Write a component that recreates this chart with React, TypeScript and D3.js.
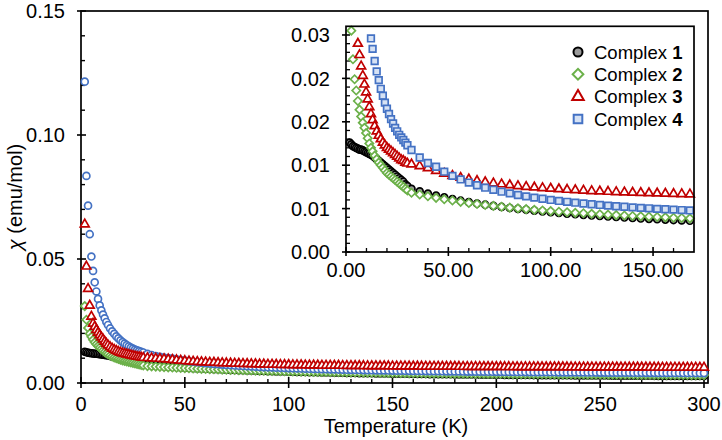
import React from "react";
import * as d3 from "d3";

// Temperatures (K)
const tempLowK = [1.8, 2.6, 3.4, 4.2, 5.0, 5.8, 6.6, 7.4, 8.2, 9.0, 9.8, 10.6, 11.4, 12.2, 13.0, 14, 15, 16, 17, 18, 19, 20, 21, 22, 23, 24, 25, 26, 27, 28, 29, 30];
const tempHighK = [
  32, 34, 36, 38, 40, 42, 44, 46, 48, 50,
  52, 54, 56, 58, 60, 62, 64, 66, 68, 70,
  72, 74, 76, 78, 80, 82, 84, 86, 88, 90,
  92, 94, 96, 98, 100, 102, 104, 106, 108, 110,
  112, 114, 116, 118, 120, 122, 124, 126, 128, 130,
  132, 134, 136, 138, 140, 142, 144, 146, 148, 150,
  152, 154, 156, 158, 160, 162, 164, 166, 168, 170,
  172, 174, 176, 178, 180, 182, 184, 186, 188, 190,
  192, 194, 196, 198, 200, 202, 204, 206, 208, 210,
  212, 214, 216, 218, 220, 222, 224, 226, 228, 230,
  232, 234, 236, 238, 240, 242, 244, 246, 248, 250,
  252, 254, 256, 258, 260, 262, 264, 266, 268, 270,
  272, 274, 276, 278, 280, 282, 284, 286, 288, 290,
  292, 294, 296, 298, 300,
];

// Complex 1
const chi1Low = [0.0126, 0.0124, 0.0122, 0.0121, 0.0120, 0.0119, 0.0118, 0.0118, 0.0117, 0.0116, 0.0115, 0.0114, 0.0113, 0.0112, 0.0111, 0.0109, 0.0107, 0.0105, 0.0103, 0.0101, 0.0099, 0.0097, 0.0095, 0.0093, 0.0091, 0.0089, 0.0087, 0.0085, 0.0083, 0.0081, 0.0078, 0.0076];
const chi1High = [
  0.00727, 0.00713, 0.00699, 0.00686, 0.00673, 0.00661, 0.00650, 0.00639, 0.00629, 0.00619,
  0.00609, 0.00600, 0.00591, 0.00583, 0.00575, 0.00567, 0.00559, 0.00552, 0.00545, 0.00538,
  0.00531, 0.00525, 0.00519, 0.00513, 0.00507, 0.00502, 0.00496, 0.00491, 0.00486, 0.00481,
  0.00476, 0.00471, 0.00467, 0.00463, 0.00458, 0.00454, 0.00450, 0.00446, 0.00442, 0.00438,
  0.00435, 0.00431, 0.00428, 0.00424, 0.00421, 0.00418, 0.00415, 0.00412, 0.00409, 0.00406,
  0.00403, 0.00400, 0.00397, 0.00395, 0.00392, 0.00389, 0.00387, 0.00384, 0.00382, 0.00380,
  0.00377, 0.00375, 0.00373, 0.00371, 0.00368, 0.00366, 0.00364, 0.00362, 0.00360, 0.00358,
  0.00356, 0.00355, 0.00353, 0.00351, 0.00349, 0.00347, 0.00346, 0.00344, 0.00342, 0.00341,
  0.00339, 0.00338, 0.00336, 0.00334, 0.00333, 0.00331, 0.00330, 0.00329, 0.00327, 0.00326,
  0.00324, 0.00323, 0.00322, 0.00320, 0.00319, 0.00318, 0.00317, 0.00315, 0.00314, 0.00313,
  0.00312, 0.00311, 0.00310, 0.00308, 0.00307, 0.00306, 0.00305, 0.00304, 0.00303, 0.00302,
  0.00301, 0.00300, 0.00299, 0.00298, 0.00297, 0.00296, 0.00295, 0.00294, 0.00293, 0.00292,
  0.00292, 0.00291, 0.00290, 0.00289, 0.00288, 0.00287, 0.00286, 0.00286, 0.00285, 0.00284,
  0.00283, 0.00282, 0.00282, 0.00281, 0.00280,
];

// Complex 2
const chi2Low = [0.0310, 0.0255, 0.0222, 0.0199, 0.0186, 0.0174, 0.0164, 0.0156, 0.0149, 0.0143, 0.0137, 0.0131, 0.0125, 0.0120, 0.0116, 0.0111, 0.0107, 0.0103, 0.0100, 0.0097, 0.0094, 0.0091, 0.0089, 0.0087, 0.0085, 0.0083, 0.0081, 0.0079, 0.0077, 0.0075, 0.0073, 0.0071];
const chi2High = [
  0.00683, 0.00672, 0.00662, 0.00652, 0.00642, 0.00633, 0.00624, 0.00616, 0.00608, 0.00600,
  0.00593, 0.00585, 0.00578, 0.00572, 0.00565, 0.00559, 0.00553, 0.00547, 0.00541, 0.00536,
  0.00531, 0.00526, 0.00521, 0.00516, 0.00511, 0.00507, 0.00502, 0.00498, 0.00494, 0.00490,
  0.00486, 0.00482, 0.00478, 0.00475, 0.00471, 0.00468, 0.00464, 0.00461, 0.00458, 0.00455,
  0.00451, 0.00449, 0.00446, 0.00443, 0.00440, 0.00437, 0.00435, 0.00432, 0.00430, 0.00427,
  0.00425, 0.00422, 0.00420, 0.00418, 0.00415, 0.00413, 0.00411, 0.00409, 0.00407, 0.00405,
  0.00403, 0.00401, 0.00399, 0.00397, 0.00395, 0.00394, 0.00392, 0.00390, 0.00388, 0.00387,
  0.00385, 0.00383, 0.00382, 0.00380, 0.00379, 0.00377, 0.00376, 0.00374, 0.00373, 0.00371,
  0.00370, 0.00369, 0.00367, 0.00366, 0.00365, 0.00363, 0.00362, 0.00361, 0.00360, 0.00358,
  0.00357, 0.00356, 0.00355, 0.00354, 0.00353, 0.00352, 0.00351, 0.00349, 0.00348, 0.00347,
  0.00346, 0.00345, 0.00344, 0.00343, 0.00342, 0.00341, 0.00340, 0.00340, 0.00339, 0.00338,
  0.00337, 0.00336, 0.00335, 0.00334, 0.00333, 0.00332, 0.00332, 0.00331, 0.00330, 0.00329,
  0.00328, 0.00328, 0.00327, 0.00326, 0.00325, 0.00325, 0.00324, 0.00323, 0.00322, 0.00322,
  0.00321, 0.00320, 0.00320, 0.00319, 0.00318,
];

// Complex 3
const chi3Low = [0.0640, 0.0470, 0.0380, 0.0312, 0.0268, 0.0240, 0.0227, 0.0214, 0.0203, 0.0193, 0.0184, 0.0176, 0.0167, 0.0159, 0.0152, 0.0145, 0.0139, 0.0134, 0.0130, 0.0126, 0.0123, 0.0120, 0.0118, 0.0116, 0.0114, 0.0112, 0.0110, 0.0108, 0.0106, 0.0105, 0.0103, 0.0102];
const chi3High = [
  0.01010, 0.01000, 0.00990, 0.00980, 0.00968, 0.00953, 0.00936, 0.00920, 0.00903, 0.00890,
  0.00878, 0.00866, 0.00856, 0.00846, 0.00837, 0.00828, 0.00820, 0.00812, 0.00805, 0.00799,
  0.00792, 0.00786, 0.00781, 0.00775, 0.00770, 0.00765, 0.00760, 0.00756, 0.00752, 0.00748,
  0.00744, 0.00740, 0.00737, 0.00733, 0.00730, 0.00727, 0.00724, 0.00721, 0.00718, 0.00715,
  0.00713, 0.00710, 0.00708, 0.00706, 0.00703, 0.00701, 0.00699, 0.00697, 0.00695, 0.00693,
  0.00691, 0.00689, 0.00688, 0.00686, 0.00684, 0.00683, 0.00681, 0.00680, 0.00678, 0.00677,
  0.00675, 0.00674, 0.00673, 0.00671, 0.00670, 0.00669, 0.00668, 0.00666, 0.00665, 0.00664,
  0.00663, 0.00662, 0.00661, 0.00660, 0.00659, 0.00658, 0.00657, 0.00656, 0.00655, 0.00654,
  0.00653, 0.00652, 0.00652, 0.00651, 0.00650, 0.00649, 0.00648, 0.00648, 0.00647, 0.00646,
  0.00645, 0.00645, 0.00644, 0.00643, 0.00643, 0.00642, 0.00641, 0.00641, 0.00640, 0.00640,
  0.00639, 0.00638, 0.00638, 0.00637, 0.00637, 0.00636, 0.00636, 0.00635, 0.00635, 0.00634,
  0.00633, 0.00633, 0.00633, 0.00632, 0.00632, 0.00631, 0.00631, 0.00630, 0.00630, 0.00629,
  0.00629, 0.00628, 0.00628, 0.00628, 0.00627, 0.00627, 0.00626, 0.00626, 0.00626, 0.00625,
  0.00625, 0.00624, 0.00624, 0.00624, 0.00623,
];

// Complex 4
const chi4Low = [0.1215, 0.0835, 0.0715, 0.0600, 0.0510, 0.0452, 0.0406, 0.0369, 0.0339, 0.0313, 0.0293, 0.0276, 0.0261, 0.0246, 0.0234, 0.0220, 0.0208, 0.0198, 0.0188, 0.0180, 0.0172, 0.0165, 0.0159, 0.0153, 0.0148, 0.0143, 0.0139, 0.0135, 0.0132, 0.0129, 0.0126, 0.0123];
const chi4High = [
  0.01175, 0.01129, 0.01089, 0.01053, 0.01025, 0.01002, 0.00982, 0.00952, 0.00925, 0.00900,
  0.00877, 0.00856, 0.00836, 0.00817, 0.00800, 0.00784, 0.00769, 0.00755, 0.00741, 0.00729,
  0.00717, 0.00705, 0.00695, 0.00685, 0.00675, 0.00666, 0.00657, 0.00649, 0.00641, 0.00633,
  0.00626, 0.00619, 0.00613, 0.00606, 0.00600, 0.00594, 0.00588, 0.00583, 0.00578, 0.00573,
  0.00568, 0.00563, 0.00559, 0.00554, 0.00550, 0.00546, 0.00542, 0.00538, 0.00534, 0.00531,
  0.00527, 0.00524, 0.00521, 0.00517, 0.00514, 0.00511, 0.00508, 0.00505, 0.00503, 0.00500,
  0.00497, 0.00495, 0.00492, 0.00490, 0.00488, 0.00485, 0.00483, 0.00481, 0.00479, 0.00476,
  0.00474, 0.00472, 0.00470, 0.00469, 0.00467, 0.00465, 0.00463, 0.00461, 0.00460, 0.00458,
  0.00456, 0.00455, 0.00453, 0.00452, 0.00450, 0.00449, 0.00447, 0.00446, 0.00444, 0.00443,
  0.00442, 0.00440, 0.00439, 0.00438, 0.00436, 0.00435, 0.00434, 0.00433, 0.00432, 0.00430,
  0.00429, 0.00428, 0.00427, 0.00426, 0.00425, 0.00424, 0.00423, 0.00422, 0.00421, 0.00420,
  0.00419, 0.00418, 0.00417, 0.00416, 0.00415, 0.00415, 0.00414, 0.00413, 0.00412, 0.00411,
  0.00410, 0.00409, 0.00409, 0.00408, 0.00407, 0.00406, 0.00406, 0.00405, 0.00404, 0.00403,
  0.00403, 0.00402, 0.00401, 0.00401, 0.00400,
];

const complexNumbers = ["1", "2", "3", "4"];

const mainXTicks = [0, 50, 100, 150, 200, 250, 300];
const mainYTicks = [0, 0.05, 0.1, 0.15];
const mainYTickLabels = ["0.00", "0.05", "0.10", "0.15"];
const insetXTicks = [0, 50, 100, 150];
const insetXTickLabels = ["0.00", "50.00", "100.00", "150.00"];
const insetYTicks = [0, 0.005, 0.01, 0.015, 0.02, 0.025];
const insetYTickLabels = ["0.00", "0.01", "0.01", "0.02", "0.02", "0.03"];

type Shape = "circle" | "diamond" | "triangle" | "square";

const FONT = "Arial, 'Liberation Sans', Helvetica, sans-serif";

function symbolPath(shape: Shape): string {
  if (shape === "circle") return d3.symbol().type(d3.symbolCircle).size(38)()!;
  if (shape === "square") return d3.symbol().type(d3.symbolSquare).size(44)()!;
  if (shape === "triangle") return d3.symbol().type(d3.symbolTriangle).size(34)()!;
  return d3.symbol().type(d3.symbolSquare).size(34)()!;
}

function Marker({ shape, cx, cy, stroke, fill, sw, scale = 1 }: { shape: Shape; cx: number; cy: number; stroke: string; fill: string; sw: number; scale?: number }) {
  const rot = shape === "diamond" ? " rotate(45)" : "";
  const sc = scale !== 1 ? ` scale(${scale})` : "";
  return <path d={symbolPath(shape)} transform={`translate(${cx},${cy})${sc}${rot}`} stroke={stroke} fill={fill} strokeWidth={sw / scale} />;
}

export default function App() {
  const W = 722, H = 440;
  const x = d3.scaleLinear().domain([0, 300]).range([81, 704]);
  const y = d3.scaleLinear().domain([0, 0.15]).range([383, 11]);
  const xi = d3.scaleLinear().domain([0, 170]).range([346, 694]);
  const yi = d3.scaleLinear().domain([0, 0.026]).range([252, 26.3]);

  const series = [
    { num: complexNumbers[0], low: chi1Low, high: chi1High, stroke: "#000000", fill: "#9a9a9a", mainShape: "circle" as Shape, insetShape: "circle" as Shape, mainFill: "#bfbfbf" },
    { num: complexNumbers[1], low: chi2Low, high: chi2High, stroke: "#6cb14a", fill: "#ffffff", mainShape: "diamond" as Shape, insetShape: "diamond" as Shape, mainFill: "#ffffff" },
    { num: complexNumbers[2], low: chi3Low, high: chi3High, stroke: "#c00000", fill: "#ffffff", mainShape: "triangle" as Shape, insetShape: "triangle" as Shape, mainFill: "#ffffff" },
    { num: complexNumbers[3], low: chi4Low, high: chi4High, stroke: "#4472c4", fill: "#d6e2f4", mainShape: "circle" as Shape, insetShape: "square" as Shape, mainFill: "#ffffff" },
  ];

  const pointsOf = (s: typeof series[number]) => {
    const pts: { t: number; v: number; hi: boolean; i: number }[] = [];
    tempLowK.forEach((t, i) => { if (i < s.low.length) pts.push({ t, v: s.low[i], hi: false, i }); });
    tempHighK.forEach((t, i) => { if (i < s.high.length) pts.push({ t, v: s.high[i], hi: true, i }); });
    return pts;
  };

  const mainOrder = [0, 1, 3, 2];
  const insetOrder = [0, 1, 2, 3];

  const mainYMinor = d3.range(1, 15).map((k) => k * 0.01).filter((v) => Math.round(v * 100) % 5 !== 0);
  const mainXMinor = d3.range(1, 31).map((k) => k * 10).filter((v) => v % 50 !== 0);
  const insetYMinor = d3.range(1, 26).map((k) => k * 0.001).filter((v) => Math.round(v * 1000) % 5 !== 0);
  const insetXMinor = d3.range(1, 17).map((k) => k * 10).filter((v) => v % 50 !== 0);

  const axisColor = "#000";
  const legendY = [52, 74.3, 96.6, 119];

  return (
    <svg width={W} height={H} style={{ display: "block", position: "absolute", left: 0, top: 0, background: "#fff" }} fontFamily={FONT}>
      <rect x={0} y={0} width={W} height={H} fill="#fff" />
      {/* Main frame */}
      <rect x={81} y={11} width={627} height={372} fill="none" stroke={axisColor} strokeWidth={1.7} />
      {mainYTicks.map((v, i) => (
        <g key={"my" + i}>
          <line x1={77} x2={86} y1={y(v)} y2={y(v)} stroke={axisColor} strokeWidth={1.6} />
          <text x={65} y={y(v)} dy="0.36em" textAnchor="end" fontSize={20} fill="#000">{mainYTickLabels[i]}</text>
        </g>
      ))}
      {mainYMinor.map((v, i) => (
        <line key={"mym" + i} x1={81} x2={85} y1={y(v)} y2={y(v)} stroke={axisColor} strokeWidth={1.4} />
      ))}
      {mainXTicks.map((v, i) => (
        <g key={"mx" + i}>
          <line x1={x(v)} x2={x(v)} y1={377} y2={388} stroke={axisColor} strokeWidth={1.6} />
          <text x={x(v)} y={411} textAnchor="middle" fontSize={20} fill="#000">{v}</text>
        </g>
      ))}
      {mainXMinor.map((v, i) => (
        <line key={"mxm" + i} x1={x(v)} x2={x(v)} y1={383} y2={379} stroke={axisColor} strokeWidth={1.4} />
      ))}
      <text x={396} y={433} textAnchor="middle" fontSize={20} fill="#000">Temperature (K)</text>
      <text transform="translate(22,197) rotate(-90)" textAnchor="middle" fontSize={20} fill="#000">
        <tspan fontStyle="italic">χ</tspan> (emu/mol)
      </text>

      {/* Main data */}
      {mainOrder.map((si) => {
        const s = series[si];
        return (
          <g key={"ms" + si}>
            {pointsOf(s).map((p, k) => (
              <Marker key={k} shape={s.mainShape} cx={x(p.t)} cy={y(p.v)} stroke={s.stroke} fill={s.mainFill} sw={1.7} />
            ))}
          </g>
        );
      })}

      {/* Inset */}
      <rect x={346} y={26.3} width={348} height={225.7} fill="#fff" stroke="none" />
      {insetYTicks.map((v, i) => (
        <g key={"iy" + i}>
          <line x1={342} x2={350} y1={yi(v)} y2={yi(v)} stroke={axisColor} strokeWidth={1.6} />
          <text x={330} y={yi(v)} dy="0.36em" textAnchor="end" fontSize={20} fill="#000">{insetYTickLabels[i]}</text>
        </g>
      ))}
      {insetYMinor.map((v, i) => (
        <line key={"iym" + i} x1={346} x2={350} y1={yi(v)} y2={yi(v)} stroke={axisColor} strokeWidth={1.3} />
      ))}
      {insetXTicks.map((v, i) => (
        <g key={"ix" + i}>
          <line x1={xi(v)} x2={xi(v)} y1={247} y2={256} stroke={axisColor} strokeWidth={1.6} />
          <text x={xi(v)} y={277} textAnchor="middle" fontSize={20} fill="#000">{insetXTickLabels[i]}</text>
        </g>
      ))}
      {insetXMinor.map((v, i) => (
        <line key={"ixm" + i} x1={xi(v)} x2={xi(v)} y1={252} y2={248} stroke={axisColor} strokeWidth={1.3} />
      ))}

      {insetOrder.map((si) => {
        const s = series[si];
        const pts = pointsOf(s).filter((p) => p.t <= 170 && p.v <= 0.026 && (!p.hi || p.i % 2 === 0));
        return (
          <g key={"is" + si}>
            {pts.map((p, k) => (
              <Marker key={k} shape={s.insetShape} cx={xi(p.t)} cy={yi(p.v)} stroke={s.stroke} fill={s.fill} sw={1.7} />
            ))}
          </g>
        );
      })}
      <rect x={346} y={26.3} width={348} height={225.7} fill="none" stroke={axisColor} strokeWidth={1.7} />

      {/* Legend */}
      {series.map((s, i) => (
        <g key={"lg" + i}>
          <Marker shape={s.insetShape} cx={578} cy={legendY[i]} stroke={s.stroke} fill={s.fill} sw={2} scale={1.3} />
          <text x={594} y={legendY[i]} dy="0.36em" fontSize={18.5} fill="#000">
            Complex <tspan fontWeight="bold">{s.num}</tspan>
          </text>
        </g>
      ))}
    </svg>
  );
}
